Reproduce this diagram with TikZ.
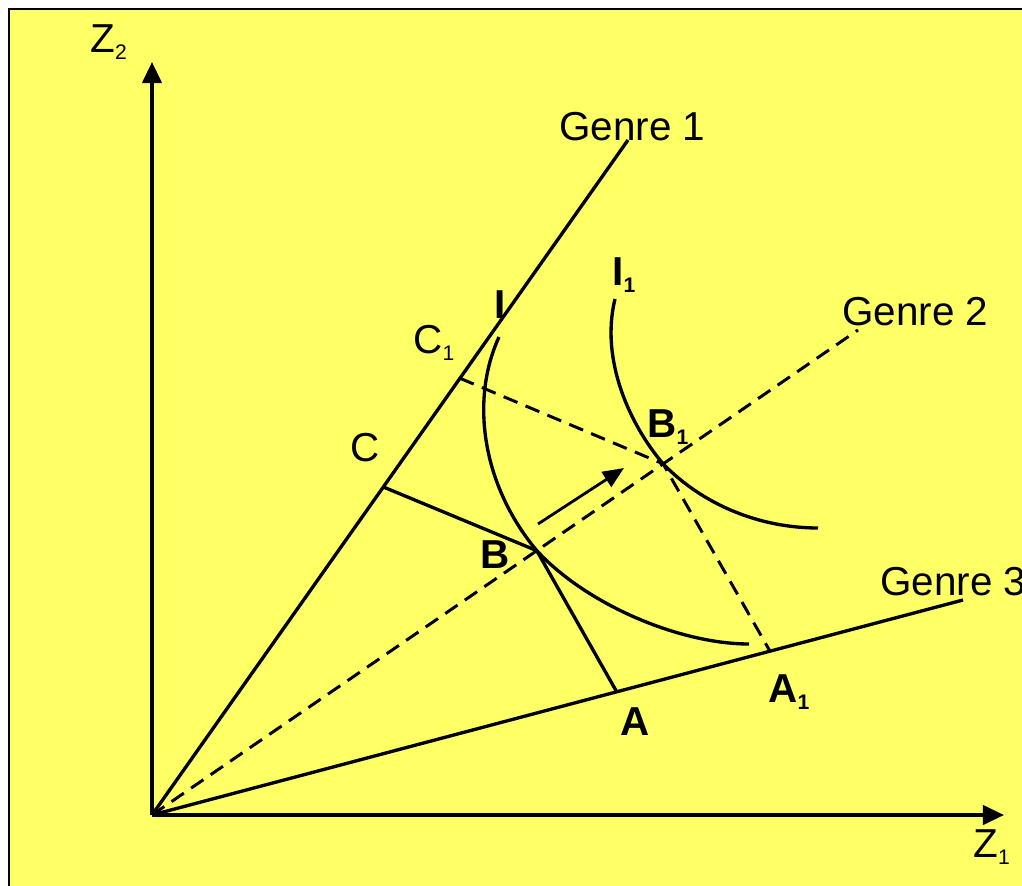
\documentclass[tikz,border=0pt]{standalone}
\usepackage{fontspec}
\setmainfont{Liberation Sans}
\usetikzlibrary{positioning, arrows.meta, calc}
\definecolor{chartyellow}{HTML}{FFFF66}
\newcommand{\lowsub}[1]{\raisebox{-4pt}{\fontsize{12}{13}\selectfont #1}}

\begin{document}
\begin{tikzpicture}[x=0.02cm, y=-0.02cm,
    line/.style={line width=1.9pt},
    dashline/.style={line width=1.7pt, dash pattern=on 8.5pt off 5pt},
    axis/.style={line width=1.9pt, -{Triangle[length=12pt, width=11pt]}},
    lbl/.style={inner sep=0pt, anchor=base west, font=\fontsize{23}{25}\selectfont},
    blbl/.style={lbl, font=\fontsize{23}{25}\selectfont\bfseries}]
  \clip (0,0) rectangle (1022,886);
  \fill[chartyellow] (9,9) rectangle (1040,900);
  \draw[line width=1.5pt] (9,900) -- (9,9) -- (1040,9);

  % axes and genre rays
  \coordinate (O) at (152,815);
  \coordinate (Z2end) at (152,62);
  \coordinate (Z1end) at (1004,815);
  \coordinate (G1) at (628,140);
  \coordinate (G2) at (858,330);
  \coordinate (G3) at (963,600);

  \coordinate (C)  at ($(O)!0.486!(G1)$);
  \coordinate (C1) at ($(O)!0.647!(G1)$);
  \coordinate (B)  at ($(O)!0.545!(G2)$);
  \coordinate (B1) at ($(O)!0.724!(G2)$);
  \coordinate (A)  at ($(O)!0.573!(G3)$);
  \coordinate (A1) at ($(O)!0.762!(G3)$);
  \coordinate (shiftstart) at (538,524);
  \coordinate (shiftend) at (624,468);

  \draw[axis] (O) -- (Z2end);
  \draw[axis] (O) -- (Z1end);
  \draw[line] (O) -- (G1);
  \draw[dashline] (O) -- (G2);
  \draw[line] (O) -- (G3);

  \draw[line] (C) -- (B) -- (A);
  \draw[dashline] (C1) -- (B1) -- (A1);
  \draw[line width=1.6pt, -{Triangle[length=12pt, width=10pt]}] (shiftstart) -- (shiftend);

  % indifference curves
  \draw[line] (499,337) .. controls (470,400) and (482,485) .. (B)
    .. controls (587,605) and (680,644) .. (749,644);
  \draw[line] (615,299) .. controls (600,360) and (630,425) .. (B1)
    .. controls (703,505) and (760,528) .. (818,528);

  % labels
  \node[lbl] (z2lbl) at (90,52) {Z\lowsub{2}};
  \node[lbl] (z1lbl) at (973,857) {Z\lowsub{1}};
  \node[lbl] (g1lbl) at (559,140) {Genre 1};
  \node[lbl] (g2lbl) at (842,325) {Genre 2};
  \node[lbl] (g3lbl) at (880,595) {Genre 3};
  \node[blbl] (ilbl) at (494,318) {I};
  \node[blbl] (i1lbl) at (612,285) {I\lowsub{1}};
  \node[lbl] (c1lbl) at (413,353) {C\lowsub{1}};
  \node[lbl] (clbl) at (350,461) {C};
  \node[blbl] (blbl) at (480,568) {B};
  \node[blbl] (b1lbl) at (647,437) {B\lowsub{1}};
  \node[blbl] (albl) at (620,735) {A};
  \node[blbl] (a1lbl) at (768,702) {A\lowsub{1}};
\end{tikzpicture}
\end{document}
